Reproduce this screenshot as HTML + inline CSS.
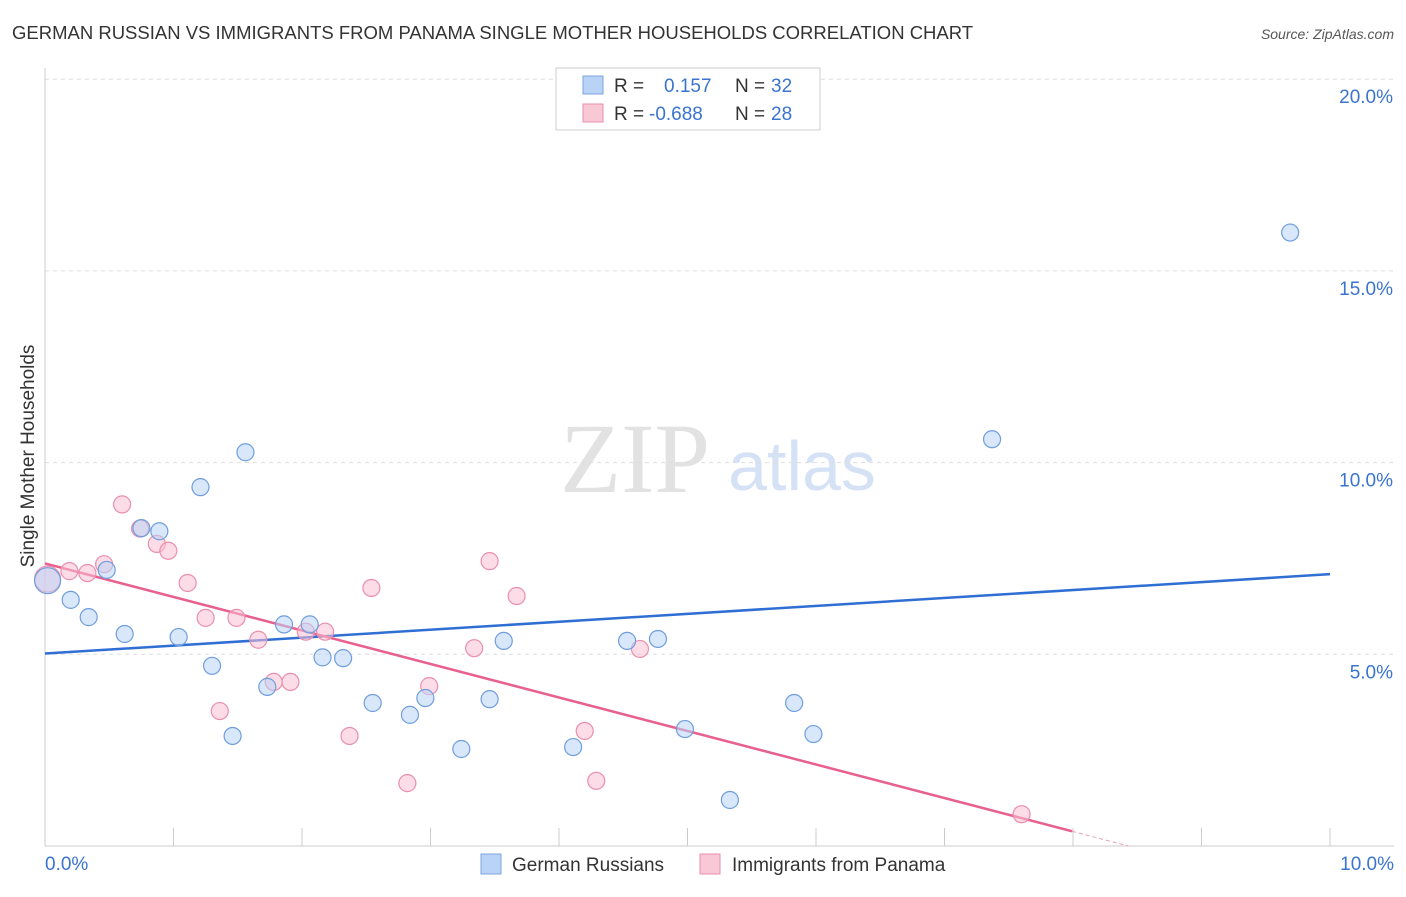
<!DOCTYPE html>
<html><head><meta charset="utf-8"><style>
body{margin:0;background:#fff;font-family:"Liberation Sans",sans-serif;}
svg text{font-family:"Liberation Sans",sans-serif;}
</style></head><body>
<svg id="c" width="1406" height="892" xmlns="http://www.w3.org/2000/svg">
<text x="12" y="39" font-size="18.5" fill="#333">GERMAN RUSSIAN VS IMMIGRANTS FROM PANAMA SINGLE MOTHER HOUSEHOLDS CORRELATION CHART</text>
<text x="1394" y="39" font-size="14" fill="#555" font-style="italic" text-anchor="end">Source: ZipAtlas.com</text>
<text x="34" y="456" font-size="19" fill="#333" transform="rotate(-90 34 456)" text-anchor="middle">Single Mother Households</text>
<text x="635" y="492" font-size="100" fill="#e2e2e2" text-anchor="middle" style="font-family:'Liberation Serif',serif">ZIP</text>
<text x="802" y="490" font-size="70" fill="#d5e2f5" text-anchor="middle">atlas</text>
<g id="grid"></g><g id="axes"></g><g id="trend"></g><g id="pts"></g>
<g>
<rect x="556" y="68" width="264" height="62" fill="#fff" stroke="#ccc"/>
<rect x="583" y="76" width="20" height="18" fill="#b8d3f5" stroke="#7aa6e0"/>
<rect x="583" y="104" width="20" height="18" fill="#f9c8d6" stroke="#ea8fac"/>
<text x="614" y="92" font-size="19" fill="#333">R = </text><text x="664" y="92" font-size="19" fill="#3a74d0">0.157</text>
<text x="735" y="92" font-size="19" fill="#333">N = </text><text x="771" y="92" font-size="19" fill="#3a74d0">32</text>
<text x="614" y="120" font-size="19" fill="#333">R = </text><text x="649" y="120" font-size="19" fill="#3a74d0">-0.688</text>
<text x="735" y="120" font-size="19" fill="#333">N = </text><text x="771" y="120" font-size="19" fill="#3a74d0">28</text>
</g>
<g>
<rect x="481" y="854" width="20" height="20" fill="#b8d3f5" stroke="#7aa6e0"/>
<text x="512" y="871" font-size="19" fill="#333">German Russians</text>
<rect x="700" y="854" width="20" height="20" fill="#f9c8d6" stroke="#ea8fac"/>
<text x="732" y="871" font-size="19" fill="#333">Immigrants from Panama</text>
</g>
</svg>
<script>
const xTicks=[0,1,2,3,4,5,6,7,8,9,10];
const yTicks=[5,10,15,20];
const blueX=[0.02,0.2,0.34,0.48,0.62,0.75,0.89,1.04,1.21,1.3,1.46,1.56,1.73,1.86,2.06,2.16,2.32,2.55,2.84,2.96,3.24,3.46,3.57,4.11,4.53,4.77,4.98,5.33,5.83,5.98,7.37,9.69];
const blueY=[6.92,6.42,5.97,7.2,5.53,8.29,8.21,5.45,9.36,4.7,2.87,10.27,4.15,5.78,5.78,4.92,4.9,3.73,3.42,3.86,2.53,3.83,5.35,2.58,5.35,5.4,3.05,1.2,3.73,2.92,10.61,16.0];
const pinkX=[0.02,0.19,0.33,0.46,0.6,0.74,0.87,0.96,1.11,1.25,1.36,1.49,1.66,1.78,1.91,2.03,2.18,2.37,2.54,2.82,2.99,3.34,3.46,3.67,4.2,4.29,4.63,7.6];
const pinkY=[6.96,7.17,7.12,7.35,8.91,8.28,7.88,7.7,6.86,5.95,3.52,5.95,5.38,4.28,4.28,5.59,5.59,2.87,6.73,1.64,4.17,5.16,7.43,6.52,3.0,1.7,5.14,0.83];
const blueTrend=[5.02,0.207];
const pinkTrend=[7.37,-0.874];
const X0=45,X1=1330,Y0=846,PY=191.7/5;
const sx=v=>X0+(X1-X0)*v/10, sy=v=>Y0-v*PY;
const NS="http://www.w3.org/2000/svg";
function mk(t,a,p){const e=document.createElementNS(NS,t);for(const k in a)e.setAttribute(k,a[k]);document.getElementById(p).appendChild(e);return e;}
yTicks.forEach(v=>{
 const l=mk('line',{x1:X0,x2:1394,y1:sy(v),y2:sy(v),stroke:'#ddd','stroke-dasharray':'4,4'},'grid');
 
 
 const t=mk('text',{x:1393,y:sy(v)+24,'font-size':19,fill:'#3a74d0','text-anchor':'end'},'grid');t.textContent=v.toFixed(1)+'%';
 
 
});
const ax=mk('line',{x1:X0,x2:X0,y1:68,y2:Y0,stroke:'#ccc'},'axes');


const bx=mk('line',{x1:X0,x2:1394,y1:Y0,y2:Y0,stroke:'#ccc'},'axes');


xTicks.forEach(v=>{
 const t=mk('line',{x1:sx(v),x2:sx(v),y1:828,y2:Y0,stroke:'#ccc'},'axes');
 
 
});
[[0,'0.0%','start',45],[10,'10.0%','end',1394]].forEach(d=>{
 const t=mk('text',{x:d[3],y:870,'font-size':19,fill:'#3a74d0','text-anchor':d[2]},'axes');t.textContent=d[1];
 
 
});
const bl=mk('line',{x1:sx(0),y1:sy(blueTrend[0]),x2:sx(10),y2:sy(blueTrend[0]+10*blueTrend[1]),stroke:'#2f6fd4','stroke-width':2.5},'trend');


const xz=-pinkTrend[0]/pinkTrend[1], xs=xz-0.44;
const pl=mk('line',{x1:sx(0),y1:sy(pinkTrend[0]),x2:sx(xs),y2:sy(pinkTrend[0]+xs*pinkTrend[1]),stroke:'#e8608e','stroke-width':2.5},'trend');


const pd=mk('line',{x1:sx(xs),y1:sy(pinkTrend[0]+xs*pinkTrend[1]),x2:sx(xz),y2:sy(0),stroke:'#e8a0b8','stroke-width':1,'stroke-dasharray':'4,3'},'trend');


function pts(xs,ys,fill,stroke,name){xs.forEach((x,i)=>{
 const c=mk('circle',{cx:sx(x),cy:sy(ys[i]),r:i==0?13:8.5,fill:fill,'fill-opacity':0.55,stroke:stroke,'stroke-width':1.2},'pts');
 
 
});}
pts(pinkX,pinkY,'#f9c0d2','#ea8fac','panama-point');
pts(blueX,blueY,'#b8d3f5','#6f9ede','german-russian-point');
</script>
</body></html>
